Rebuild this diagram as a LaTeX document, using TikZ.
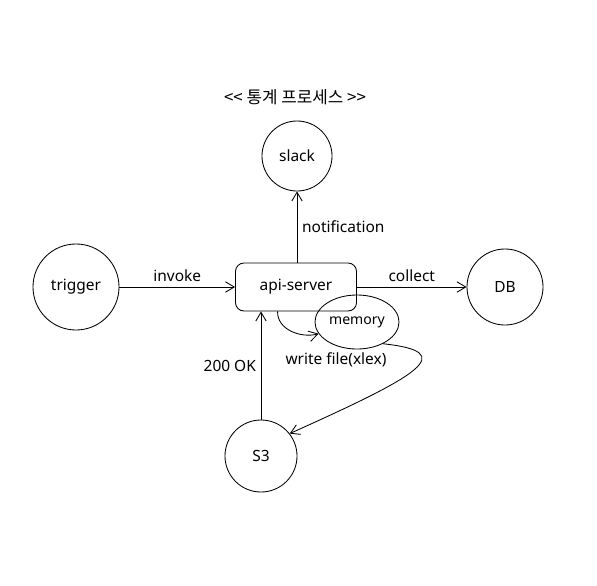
\documentclass[tikz,border=0pt]{standalone}
\usepackage{fontspec}
\setmainfont{Noto Sans}
\newfontfamily\krfont{Noto Sans CJK KR}
\usetikzlibrary{arrows.meta,positioning,shapes.geometric}

\begin{document}
\begin{tikzpicture}[
  x=0.025cm, y=-0.025cm,
  circ/.style={draw, circle, line width=0.6pt, font=\fontsize{11}{13}\selectfont, inner sep=0pt},
  srv/.style={draw, rounded corners=6pt, line width=0.6pt, font=\fontsize{11}{13}\selectfont,
              minimum width=3.025cm, minimum height=1.2cm},
  mem/.style={draw, ellipse, line width=0.6pt, font=\fontsize{10}{12}\selectfont,
              minimum width=2.1cm, minimum height=1.35cm, inner sep=0pt},
  arr/.style={-{Straight Barb[length=2.2mm,width=2.6mm]}, line width=0.6pt},
  lab/.style={font=\fontsize{11}{13}\selectfont}
]
\useasboundingbox (0,0) rectangle (597,585);

%% title
\node[font=\krfont\fontsize{12}{14}\selectfont] (title) at (295,97) {<< 통계 프로세스 >>};

%% nodes
\node[srv]  (api)  at (296,287) {api-server};
\node[circ, minimum size=1.75cm] (slack) at (297,156) {slack};
\node[circ, minimum size=2.15cm] (trig)  at (76,287)  {trigger};
\node[circ, minimum size=1.9cm]  (db)    at (505,287) {DB};
\node[circ, minimum size=1.8cm]  (s3)    at (261,456) {S3};
\node[mem]  (memo) at (357,322) {memory};

%% connectors
\draw[arr] (trig) -- (api) node[midway,above,lab]{invoke};
\draw[arr] (api) -- (db) node[midway,above,lab]{collect};
\draw[arr] (api.north -| slack) -- (slack) node[midway,right,lab]{notification};
\draw[arr] (s3) -- (api.south -| s3) node[midway,left,lab]{200 OK};
\draw[arr] (api.233) to[out=-92, in=195] (memo.197);
\draw[arr] (memo.-40) .. controls (460,352) and (420,375) .. (s3.38);
\node[lab] (wfile) at (336,360) {write file(xlex)};
\end{tikzpicture}
\end{document}
